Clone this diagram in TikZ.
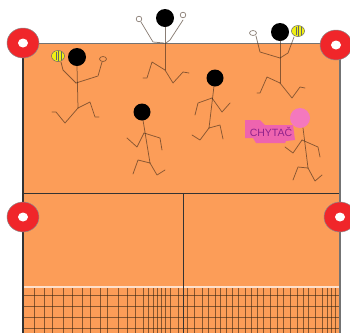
\documentclass[tikz,border=0pt]{standalone}
\usepackage{fontspec}
\setsansfont{Liberation Sans}
\definecolor{court}{RGB}{252,157,88}
\definecolor{ringred}{RGB}{240,38,42}
\definecolor{pinkhead}{RGB}{244,120,190}
\definecolor{pinklabel}{RGB}{238,100,175}
\definecolor{labeltext}{RGB}{145,35,140}
\definecolor{ballyellow}{RGB}{240,240,20}
\definecolor{stick}{RGB}{60,40,25}
\begin{document}
\begin{tikzpicture}[x=1pt,y=-1pt,
  limb/.style={draw=stick,draw opacity=0.6,line width=0.75pt,line cap=round,line join=round},
  loop/.style={draw=stick,draw opacity=0.6,line width=0.7pt},
  head/.style={fill=black},
  netline/.style={draw=black!70!brown,draw opacity=0.6,line width=0.8pt},
  ring/.style={fill=ringred,draw=black!45,line width=0.5pt},
  ball/.style={fill=ballyellow,draw=black!60,line width=0.5pt}]
\useasboundingbox (0,0) rectangle (350,333);

% court surface
\fill[court] (23,43) rectangle (340,333);

% net
\foreach \x in {34,44,52,63,72,82,90,100,107,118,127,135,143,148,153,157,161,165,170,
                178,187,194,202,208,215,220,226,232,238,245,251,257,263,270,277,283,
                290,297,303,308,315,322,327,331,335}
  \draw[netline] (\x,288) -- (\x,333);
\foreach \y in {295,306,317,328}
  \draw[netline] (23,\y) -- (340,\y);
\draw[white,opacity=0.7,line width=1.2pt] (23,287) -- (340,287);

% court lines
\draw[black!80,line width=0.9pt] (23,193) -- (340,193);
\draw[black!80,line width=0.9pt] (183,193) -- (183,333);
\draw[black!55,line width=0.8pt] (23,43) -- (340,43);
\draw[black!55,line width=1.2pt] (340,43) -- (340,333);
\draw[black!80,line width=1.6pt] (23,43) -- (23,333);

% corner and side rings
\foreach \n/\cx/\cy in {tl/23/43, tr/336/45, ml/23/217, mr/340/217}{
  \fill[ring] (\cx,\cy) ellipse [x radius=16pt, y radius=15pt];
  \fill[white] (\cx,\cy) ellipse [x radius=5pt, y radius=4.5pt];
}

% jumper at the top
\fill[head] (165,18) circle[radius=9pt];
\draw[limb] (165,27) -- (165,70);
\draw[limb] (164,43) -- (153,42) -- (141,22);
\draw[limb] (166,43) -- (170,40) -- (183,20);
\draw[loop] (139,19) circle[radius=2.8pt];
\draw[loop] (183,15) circle[radius=2.8pt];
\draw[limb] (165,70) -- (152,62) -- (147,78) -- (143,78);
\draw[limb] (165,70) -- (173,83) -- (183,72) -- (189,73);

% player with ball, left
\fill[ball] (58,56) ellipse[x radius=6.5pt, y radius=5.5pt];
\draw[black!60,line width=0.5pt] (56,52) -- (56,60) (58.5,51) -- (58.5,61) (61,52) -- (61,60);
\fill[head] (77,57) circle[radius=9pt];
\draw[limb] (77,66) -- (78,108);
\draw[limb] (76,83) -- (63,70) -- (61,62);
\draw[limb] (76,83) -- (98,76) -- (102,62);
\draw[loop] (103,59) ellipse[x radius=3.5pt, y radius=2.5pt];
\draw[limb] (78,108) -- (65,123) -- (56,112) -- (52,112);
\draw[limb] (78,108) -- (90,102) -- (95,117) -- (99,117);

% runner, centre left
\fill[head] (142,112) circle[radius=8.5pt];
\draw[limb] (143,120) -- (150,163);
\draw[limb] (144,133) -- (137,147) -- (127,138);
\draw[limb] (144,133) -- (160,138) -- (162,150);
\draw[limb] (150,163) -- (138,160) -- (133,174);
\draw[limb] (150,163) -- (157,175) -- (165,170);

% runner, centre right
\fill[head] (215,78) circle[radius=8.5pt];
\draw[limb] (214,86) -- (209,128);
\draw[limb] (212,98) -- (198,103) -- (195,115);
\draw[limb] (212,98) -- (222,112) -- (230,103);
\draw[limb] (209,128) -- (200,140) -- (192,135);
\draw[limb] (209,128) -- (220,125) -- (223,139);

% player with ball, right
\fill[ball] (298,31) ellipse[x radius=6.5pt, y radius=5.5pt];
\draw[black!60,line width=0.5pt] (296,27) -- (296,35) (298.5,26) -- (298.5,36) (301,27) -- (301,35);
\fill[head] (280,32) circle[radius=9pt];
\draw[limb] (280,40) -- (280,83);
\draw[limb] (280,58) -- (260,52) -- (256,36);
\draw[limb] (280,58) -- (288,53) -- (294,37);
\draw[loop] (253,33) ellipse[x radius=3.5pt, y radius=2.5pt];
\draw[limb] (280,83) -- (267,77) -- (260,93) -- (257,93);
\draw[limb] (280,83) -- (292,98) -- (300,87) -- (305,88);

% catcher
\fill[pinklabel] (245,120) -- (260,120) -- (265,125) -- (293,125) -- (295,140)
  -- (286,141) -- (285,143) -- (256,143) -- (253,138) -- (245,138) -- cycle;
\node[font=\sffamily\fontsize{10.5}{10.5}\selectfont,text=labeltext,inner sep=0pt]
  (catcherlabel) at (271,132) {CHYTAČ};
\fill[pinkhead] (300,118) circle[radius=10pt];
\draw[limb] (303,128) -- (308,168);
\draw[limb] (302,140) -- (293,153) -- (285,147);
\draw[limb] (302,140) -- (318,147) -- (320,157);
\draw[limb] (308,168) -- (298,167) -- (293,180);
\draw[limb] (308,168) -- (315,181) -- (322,175);
\end{tikzpicture}
\end{document}
